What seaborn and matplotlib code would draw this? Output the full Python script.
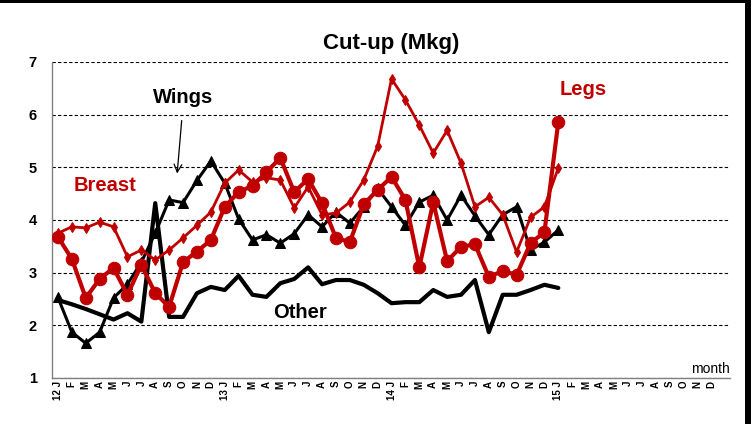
import numpy as np
import pandas as pd
import seaborn as sns
import matplotlib.pyplot as plt
from matplotlib.patches import Rectangle

# monthly values, Jan 2012 .. Jan 2015 (Mkg)
month_letters = ["J", "F", "M", "A", "M", "J", "J", "A", "S", "O", "N", "D"]
years = ["12", "13", "14", "15"]

breast = [3.75, 3.87, 3.85, 3.96, 3.87, 3.30, 3.43, 3.24, 3.43, 3.66, 3.90, 4.15,
          4.70, 4.95, 4.72, 4.80, 4.76, 4.23, 4.63, 4.10, 4.13, 4.34, 4.76, 5.40,
          6.68, 6.28, 5.80, 5.27, 5.70, 5.08, 4.25, 4.43, 4.10, 3.39, 4.05, 4.25,
          4.99]
legs = [3.68, 3.26, 2.52, 2.88, 3.09, 2.58, 3.15, 2.61, 2.35, 3.20, 3.40, 3.62,
        4.25, 4.53, 4.65, 4.91, 5.18, 4.53, 4.78, 4.32, 3.66, 3.58, 4.30, 4.57,
        4.82, 4.38, 3.10, 4.34, 3.22, 3.49, 3.54, 2.92, 3.03, 2.96, 3.56, 3.77,
        5.86]
wings = [2.53, 1.87, 1.66, 1.87, 2.52, 2.78, 3.20, 3.75, 4.38, 4.33, 4.75, 5.12,
         4.70, 4.02, 3.62, 3.72, 3.56, 3.74, 4.10, 3.87, 4.15, 3.94, 4.25, 4.60,
         4.25, 3.90, 4.34, 4.47, 4.00, 4.47, 4.08, 3.72, 4.10, 4.25, 3.43, 3.58,
         3.81]
other = [2.48, 2.40, 2.31, 2.21, 2.11, 2.23, 2.07, 4.32, 2.16, 2.16, 2.61, 2.73,
         2.67, 2.94, 2.58, 2.54, 2.80, 2.88, 3.10, 2.78, 2.86, 2.86, 2.77, 2.61,
         2.42, 2.44, 2.44, 2.67, 2.54, 2.58, 2.86, 1.87, 2.58, 2.58, 2.67, 2.77,
         2.71]

tick_labels = []
for y in years:
    for i, m in enumerate(month_letters):
        tick_labels.append(f"{y} {m}" if i == 0 else m)

sns.set_style("white")
plt.rcParams['font.family'] = ['Liberation Sans', 'DejaVu Sans']
plt.rcParams['text.color'] = 'black'
plt.rcParams['xtick.color'] = 'black'
plt.rcParams['ytick.color'] = 'black'
plt.rcParams['axes.labelcolor'] = 'black'

red = "#c00000"
fig = plt.figure(figsize=(7.51, 4.24), dpi=100)
ax = fig.add_axes([0.0692, 0.1085, 0.9028, 0.7453])

def draw(vals, **kw):
    df = pd.DataFrame({"month": np.arange(len(vals)), "value": vals})
    sns.lineplot(data=df, x="month", y="value", ax=ax, **kw)

draw(other, color="black", linewidth=3.0, zorder=2)
draw(wings, color="black", linewidth=2.2, marker="^", markersize=7,
     markeredgecolor="black", zorder=3)
draw(breast, color=red, linewidth=2.0, marker="d", markersize=5,
     markeredgecolor=red, zorder=4)
draw(legs, color=red, linewidth=3.0, marker="o", markersize=9,
     markeredgecolor=red, zorder=5)

ax.set_xlim(-0.43, 48.35)
ax.set_ylim(1, 7)
ax.set_yticks(range(1, 8))
ax.set_xticks(range(len(tick_labels)))
ax.set_xticklabels(tick_labels, rotation=90, fontsize=7, fontweight="bold",
                   color="black")
ax.tick_params(axis="y", length=0, pad=11, labelsize=10.5, labelcolor="black")
ax.tick_params(axis="x", length=0, pad=2)
for lab in ax.get_yticklabels():
    lab.set_fontweight("bold")
ax.set_xlabel("")
ax.set_ylabel("")

ax.grid(axis="y", color="black", linestyle=(0, (3, 2)), linewidth=0.8)
ax.grid(axis="x", visible=False)
for s in ["top", "right"]:
    ax.spines[s].set_visible(False)
for s in ["left", "bottom"]:
    ax.spines[s].set_color("#808080")
    ax.spines[s].set_linewidth(1.0)

ax.set_title("Cut-up (Mkg)", fontsize=16, fontweight="bold", pad=9,
             color="black")

ax.text(9.0, 6.32, "Wings", fontsize=14.5, fontweight="bold", color="black",
        ha="center", va="center")
ax.annotate("", xy=(8.56, 4.83), xytext=(8.92, 5.94),
            arrowprops=dict(arrowstyle="->", color="black", lw=0.9,
                            mutation_scale=14))
ax.text(3.38, 4.66, "Breast", fontsize=14.5, fontweight="bold", color=red,
        ha="center", va="center")
ax.text(37.8, 6.47, "Legs", fontsize=14.5, fontweight="bold", color=red,
        ha="center", va="center")
ax.text(17.4, 2.25, "Other", fontsize=14.5, fontweight="bold", color="black",
        ha="center", va="center")
ax.text(1.0, 0.005, "month", transform=ax.transAxes, fontsize=10,
        ha="right", va="bottom", color="black")

# frame edges visible in the original slide crop
fig.add_artist(Rectangle((0, 0.993), 1, 0.007, transform=fig.transFigure,
                         color="black", lw=0))
fig.add_artist(Rectangle((0.992, 0), 0.008, 1, transform=fig.transFigure,
                         color="black", lw=0))

fig.savefig("out.png", dpi=100)
